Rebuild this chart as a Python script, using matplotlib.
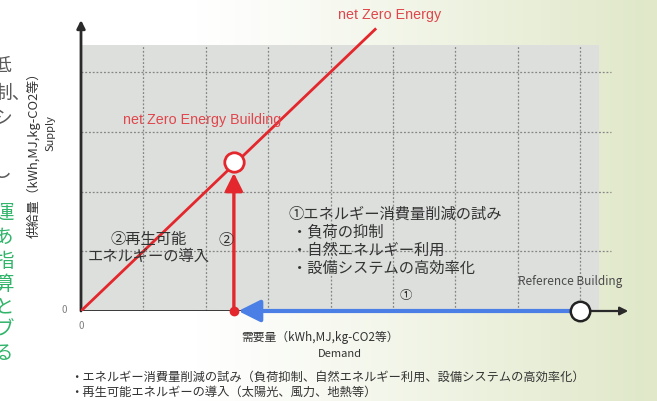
import numpy as np
import matplotlib
matplotlib.use("Agg")
import matplotlib.pyplot as plt
from matplotlib.patches import Rectangle

plt.rcParams['font.family'] = ['Noto Sans CJK JP', 'DejaVu Sans']

W, H = 657, 401

# ---- chart values (demand on x, supply on y) ----
grid_x = [1, 2, 3, 4, 5, 6, 7, 8]
grid_y = [1, 2, 3, 4]
nze_line_demand = [0.0, 4.73]
nze_line_supply = [0.0, 4.73]
nzeb_demand, nzeb_supply = 2.45, 2.5
ref_demand, ref_supply = 8.0, 0.0
axis_x_end = 8.77
axis_y_end = 4.87
shade_x_end = 8.3
shade_y_end = 4.45
hgrid_x_end = 8.5

fig = plt.figure(figsize=(W / 100, H / 100), dpi=100)


def px(x, y):
    """Figure fraction from pixel position measured from the top-left."""
    return x / W, 1 - y / H


# slide background: white on the left fading to pale green on the right
bg = fig.add_axes([0, 0, 1, 1], zorder=0)
cols = np.linspace(0, 1, W)
t = np.clip((cols - 0.30) / 0.69, 0, 1) ** 1.1
left = np.array([1.0, 1.0, 1.0])
right = np.array([0xe0, 0xe8, 0xc9]) / 255
row = left[None, :] * (1 - t[:, None]) + right[None, :] * t[:, None]
img = np.repeat(row[None, :, :], 20, axis=0)
bg.imshow(img, extent=[0, 1, 0, 1], aspect='auto')
bg.axis('off')

# main axes: origin at pixel (81, 311)
ax = fig.add_axes([81 / W, (H - 311) / H, (W - 81) / W, 311 / H], zorder=1)
ax.set_facecolor('none')
ax.set_xlim(0, (W - 81) / 62.4)
ax.set_ylim(0, 311 / 59.75)
ax.axis('off')

# shaded plotting area
ax.add_patch(Rectangle((0, 0), shade_x_end, shade_y_end, facecolor='#dcdfdc',
                       edgecolor='none', zorder=0))

# dotted grid
ax.vlines(grid_x, 0, shade_y_end, colors='#858585', linestyles=(0, (1.5, 1.5)),
          lw=0.9, zorder=1)
ax.hlines(grid_y, 0, hgrid_x_end, colors='#858585', linestyles=(0, (1.5, 1.5)),
          lw=0.9, zorder=1)

# axes with arrowheads
ax.annotate('', xy=(0, axis_y_end), xytext=(0, 0),
            arrowprops=dict(arrowstyle='-|>', color='#2a2a2a', lw=2.0,
                            mutation_scale=12, shrinkA=0, shrinkB=0),
            zorder=3, annotation_clip=False)
ax.plot([0, ref_demand], [0, 0], color='#2a2a2a', lw=2.0, zorder=3,
        solid_capstyle='butt')
ax.annotate('', xy=(axis_x_end, 0), xytext=(ref_demand, 0),
            arrowprops=dict(arrowstyle='-|>', color='#2a2a2a', lw=1.6,
                            mutation_scale=12, shrinkA=0, shrinkB=0),
            zorder=3)

# net zero energy line
ax.plot(nze_line_demand, nze_line_supply, color='#e3272c', lw=2.0, zorder=4,
        solid_capstyle='butt')

# renewable supply arrow (2)
ax.annotate('', xy=(nzeb_demand, nzeb_supply - 0.19), xytext=(nzeb_demand, 0),
            arrowprops=dict(arrowstyle='-|>,head_length=0.9,head_width=0.45',
                            color='#e3272c', lw=2.4, mutation_scale=12,
                            shrinkA=0, shrinkB=0),
            zorder=5)

# energy reduction arrow (1)
ax.annotate('', xy=(nzeb_demand + 0.07, 0), xytext=(ref_demand - 0.15, 0),
            arrowprops=dict(arrowstyle='-|>,head_length=1.1,head_width=0.55',
                            color='#4b7fe6', lw=3.0, mutation_scale=12,
                            shrinkA=0, shrinkB=0),
            zorder=5)
ax.plot(nzeb_demand, 0, 'o', ms=6, color='#e3272c', zorder=6, clip_on=False)

# buildings
ax.plot(nzeb_demand, nzeb_supply, 'o', ms=14, mfc='white', mec='#e3272c',
        mew=2.0, zorder=7)
ax.plot(ref_demand, ref_supply, 'o', ms=14, mfc='white', mec='#222222',
        mew=1.8, zorder=7, clip_on=False)

# ---- text ----
dark = '#333333'
red = '#e0464c'
latin = ['Liberation Sans', 'DejaVu Sans']


def label(x, y, s, size, color=dark, ha='left', va='center', **kw):
    fig.text(*px(x, y), s, fontsize=size, color=color, ha=ha, va=va,
             zorder=10, **kw)


label(338, 15, 'net Zero Energy', 10.3, color=red, family=latin)
label(123, 120, 'net Zero Energy Building', 10.3, color=red, family=latin)

label(149, 248, '②再生可能\nエネルギーの導入', 11, ha='center', linespacing=1.05)
label(226, 240, '②', 11, ha='center')

label(288, 214, '①エネルギー消費量削減の試み', 11)
label(292, 232, '・負荷の抑制', 11)
label(292, 250, '・自然エネルギー利用', 11)
label(292, 268, '・設備システムの高効率化', 11)

label(406, 296, '①', 9, ha='center')
label(518, 282, 'Reference Building', 8.5, color='#4a4a4a')

label(320, 337, '需要量（kWh,MJ,kg-CO2等）', 8.5, ha='center')
label(340, 354, 'Demand', 8, ha='center')

label(34, 152, '供給量（kWh,MJ,kg-CO2等）', 9.3, ha='center', rotation=90)
label(51, 133, 'Supply', 8, ha='center', rotation=90)

label(64, 310, '0', 7, color='#808080', ha='center')
label(81, 326, '0', 7, color='#808080', ha='center')

label(70, 377, '・エネルギー消費量削減の試み（負荷抑制、自然エネルギー利用、設備システムの高効率化）', 8.8)
label(70, 392, '・再生可能エネルギーの導入（太陽光、風力、地熱等）', 8.8)

# cut-off slide body text on the left edge
gray_chars = [('低', 65), ('制、', 93), ('シ', 118), ('し', 172)]
for ch, y in gray_chars:
    label(-7, y, ch, 13.5, color='#5a5a5a')
green_chars = [('運', 213), ('あ', 237), ('指', 261), ('算', 284),
               ('と', 307), ('ブ', 330), ('る', 353)]
for ch, y in green_chars:
    label(-6, y, ch, 14, color='#30b46a')

fig.savefig('out.png', dpi=100)
